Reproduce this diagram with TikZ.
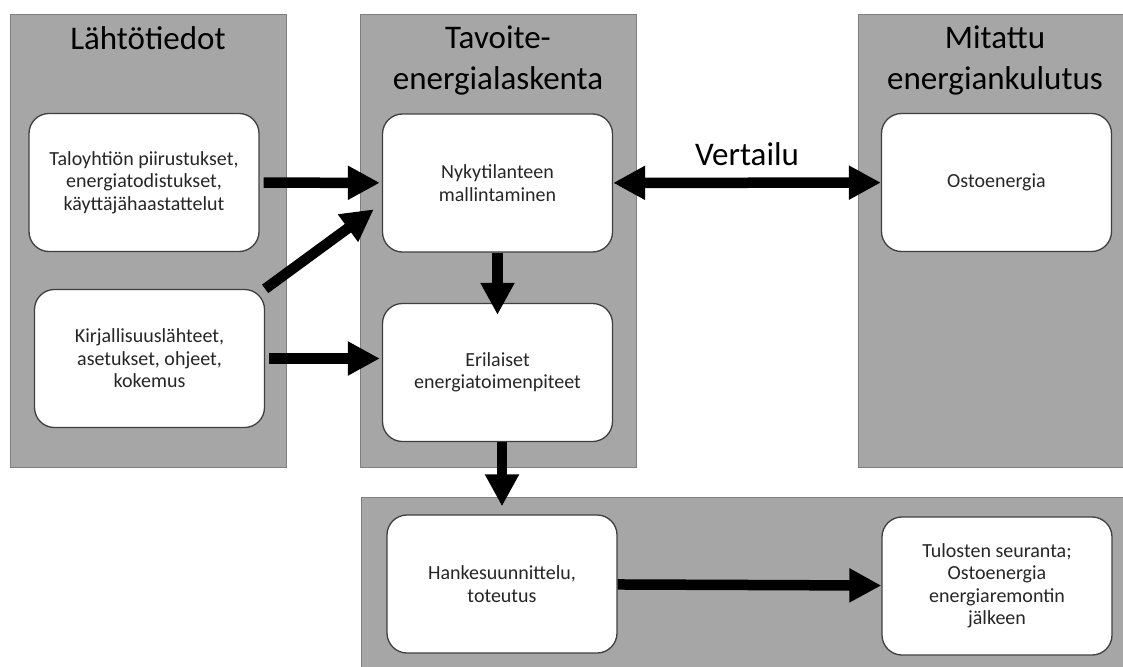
\documentclass[tikz,border=0pt]{standalone}
\usepackage{fontspec}
\setmainfont{Carlito}
\usetikzlibrary{arrows.meta}
\definecolor{panelgray}{HTML}{A6A6A6}
\definecolor{paneledge}{HTML}{7F7F7F}
\definecolor{boxedge}{HTML}{3F3F3F}
\definecolor{boxtext}{HTML}{262626}

\begin{document}
\begin{tikzpicture}[x=1pt, y=-1pt,
		>={Triangle[width=32pt,length=32pt]},
		panel/.style={fill=panelgray, draw=paneledge, line width=1pt},
		box/.style={rectangle, rounded corners=20pt, fill=white, draw=boxedge, line width=1.3pt, minimum width=230pt, minimum height=138pt, align=center, text=boxtext, font=\fontsize{20}{22.5}\selectfont},
		title/.style={align=center, font=\fontsize{33}{41}\selectfont},
		arr/.style={->, line width=10.5pt}]
			\clip (0,0) rectangle (1123,666);
			\fill[white] (0,0) rectangle (1123,666);
			% panels
			\draw[panel] (10,15) rectangle (286,467);
			\draw[panel] (360,15) rectangle (636,467);
			\draw[panel] (858,15) rectangle (1135,467);
			\draw[panel] (361,497) rectangle (1135,680);
			\node[title, anchor=base] (lahto) at (148,50) {Lähtötiedot};
			\node[title] (tavoite) at (498,60) {Tavoite-\\energialaskenta};
			\node[title] (mitattu) at (995,60) {Mitattu\\energiankulutus};
			% boxes
			\node[box] (tal) at (144,182.5) {Taloyhtiön piirustukset,\\energiatodistukset,\\käyttäjähaastattelut};
			\node[box] (kirj) at (149.5,358.5) {Kirjallisuuslähteet,\\asetukset, ohjeet,\\kokemus};
			\node[box] (nyk) at (497.5,183) {Nykytilanteen\\mallintaminen};
			\node[box] (eri) at (497.5,372.5) {Erilaiset\\energiatoimenpiteet};
			\node[box] (ost) at (996.5,182.5) {Ostoenergia};
			\node[box] (hank) at (502,584) {Hankesuunnittelu,\\toteutus};
			\node[box] (tul) at (997,586) {Tulosten seuranta;\\Ostoenergia\\energiaremontin\\jälkeen};
			% arrows
			\draw[arr, shorten <=4pt, shorten >=2pt] (tal) -- (nyk);
			\draw[arr, shorten >=10pt] (kirj.north east) -- (nyk.190);
			\draw[arr, shorten <=4pt, shorten >=2pt] (kirj.east) -- (kirj.east -| eri.west);
			\draw[arr, shorten >=-12pt] (nyk) -- (eri);
			\draw[arr, shorten >=8pt] (eri.south -| hank.north) -- (hank.north);
			\draw[arr] (hank) -- (tul);
			\draw[arr, <->] (nyk) -- node[midway, anchor=base, yshift=17pt, font=\fontsize{33}{41}\selectfont] (vert) {Vertailu} (ost);
		\end{tikzpicture}
\end{document}
